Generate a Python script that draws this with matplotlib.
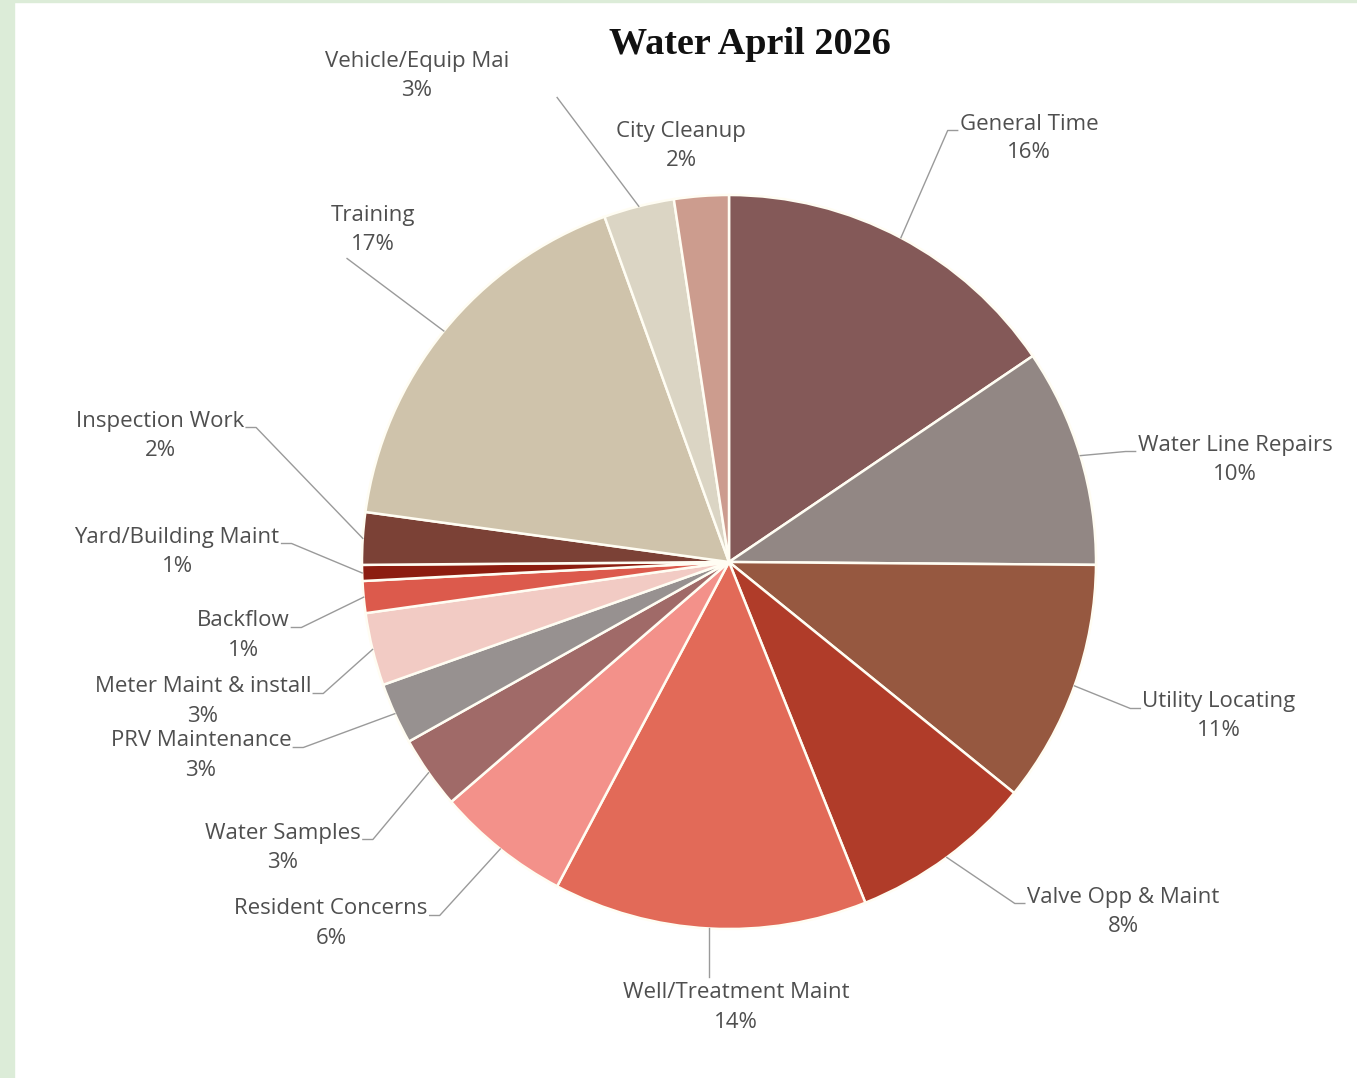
import matplotlib
matplotlib.use("Agg")
import matplotlib.pyplot as plt
from matplotlib.patches import Rectangle
import numpy as np

# slice values (share of hours), clockwise from 12 o'clock
categories = ["General Time", "Water Line Repairs", "Utility Locating",
              "Valve Opp & Maint", "Well/Treatment Maint", "Resident Concerns",
              "Water Samples", "PRV Maintenance", "Meter Maint & install",
              "Backflow", "Yard/Building Maint", "Inspection Work",
              "Training", "Vehicle/Equip Mai", "City Cleanup"]
values = [15.5, 9.6, 10.7, 8.1, 13.8, 5.9, 3.2, 2.7, 3.2, 1.4, 0.7, 2.3,
          17.3, 3.1, 2.4]
colors = ["#845958", "#928784", "#965840", "#b03c29", "#e26a58", "#f3918a",
          "#a06a68", "#979190", "#f2cbc4", "#dc5a4c", "#8c1d10", "#7b4136",
          "#cfc3ab", "#dbd5c4", "#cc9c8e"]

W, H = 1357, 1078
CX, CY, R = 729, 562, 367   # pie centre / radius in pixels (y from top)

# where each label's name line is centred (pixels, y from top) and how the leader attaches
label_layout = {
    "General Time": (1029, 124, "name_left"),
    "Water Line Repairs": (1235, 445, "name_left"),
    "Utility Locating": (1219, 702, "name_left"),
    "Valve Opp & Maint": (1123, 897, "name_left"),
    "Well/Treatment Maint": (736, 993, "top"),
    "Resident Concerns": (331, 909, "name_right"),
    "Water Samples": (283, 833, "name_right"),
    "PRV Maintenance": (201, 741, "name_right"),
    "Meter Maint & install": (203, 687, "name_right"),
    "Backflow": (243, 621, "name_right"),
    "Yard/Building Maint": (177, 537, "name_right"),
    "Inspection Work": (160, 421, "name_right"),
    "Training": (373, 215, "pct_left"),
    "Vehicle/Equip Mai": (417, 62, "far_right"),
    "City Cleanup": (681, 131, "none"),
}

TEXT = "#4f4f4f"
LINE = "#9a9a9a"
FS = 16

fig = plt.figure(figsize=(W / 100, H / 100), dpi=100)
fig.patches.append(Rectangle((0, 0), 14 / W, 1, transform=fig.transFigure,
                             color="#dcecd8", zorder=0))
fig.patches.append(Rectangle((0, 1 - 2 / H), 1, 2 / H, transform=fig.transFigure,
                             color="#dcecd8", zorder=0))
ax = fig.add_axes([0, 0, 1, 1])
ax.patch.set_alpha(0)

wedges, _ = ax.pie(values, colors=colors, startangle=90, counterclock=False,
                   center=(CX, H - CY), radius=R,
                   wedgeprops=dict(edgecolor="#fffdf3", linewidth=1.8))
ax.set_xlim(0, W)
ax.set_ylim(0, H)
ax.set_aspect("equal")
ax.axis("off")

ax.text(750, H - 45, "Water April 2026", ha="center", va="center",
        family="Liberation Serif", fontweight="bold", fontsize=27.5, color="#111111")

total = sum(values)
renderer = fig.canvas.get_renderer()
for cat, val, w in zip(categories, values, wedges):
    x, y, attach = label_layout[cat]
    pct = round(100 * val / total)
    t_name = ax.text(x, H - y, cat, ha="center", va="center", family="Open Sans",
                     fontsize=FS, color=TEXT)
    t_pct = ax.text(x, H - y - 29, f"{pct}%", ha="center", va="center",
                    family="Open Sans", fontsize=FS, color=TEXT)
    if attach == "none":
        continue
    a = np.deg2rad((w.theta1 + w.theta2) / 2)
    p0 = (CX + R * np.cos(a), H - CY + R * np.sin(a))
    nb = t_name.get_window_extent(renderer)
    pb = t_pct.get_window_extent(renderer)
    if attach == "name_left":
        pts = [p0, (nb.x0 - 12, nb.y0 + 4), (nb.x0 - 2, nb.y0 + 4)]
    elif attach == "name_right":
        pts = [p0, (nb.x1 + 12, nb.y0 + 4), (nb.x1 + 2, nb.y0 + 4)]
    elif attach == "top":
        pts = [p0, (p0[0], nb.y1 + 6)]
    elif attach == "pct_left":
        pts = [p0, (pb.x0 - 4, pb.y0 - 4)]
    else:  # far_right
        pts = [p0, (nb.x1 + 48, pb.y0 + 4)]
    xs, ys = zip(*pts)
    ax.plot(xs, ys, color=LINE, lw=1.0, zorder=3)

fig.savefig("out.png", dpi=100)
